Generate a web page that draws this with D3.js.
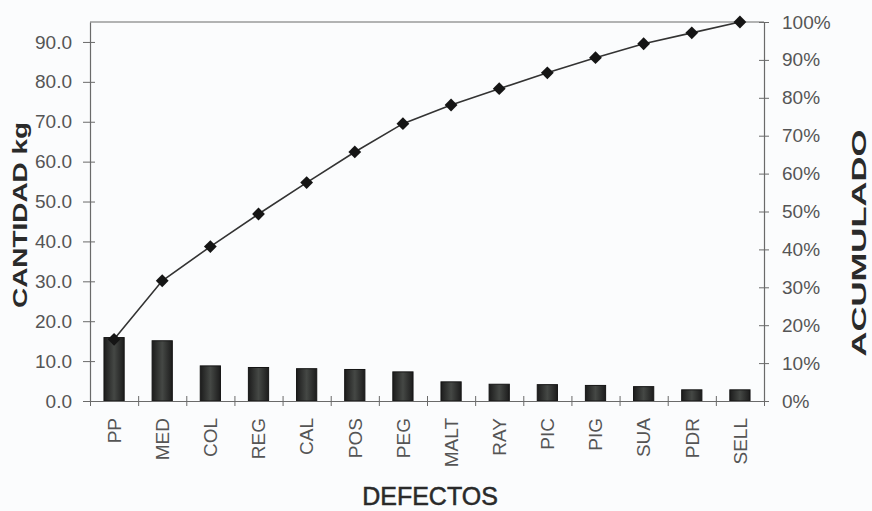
<!DOCTYPE html>
<html>
<head>
<meta charset="utf-8">
<script src="https://cdn.jsdelivr.net/npm/d3@7"></script>
<style>
  body { margin: 0; background: #fbfcfd; }
  svg { display: block; }
  text { font-family: "Liberation Sans", Arial, sans-serif; }
</style>
</head>
<body>
<svg id="chart" width="872" height="511"></svg>
<script>
// Defect categories and quantities (kg), sorted descending for the Pareto chart
const categories = ["PP", "MED", "COL", "REG", "CAL", "POS", "PEG", "MALT", "RAY", "PIC", "PIG", "SUA", "PDR", "SELL"];
const quantities = [15.9, 15.1, 8.8, 8.4, 8.1, 7.9, 7.3, 4.8, 4.2, 4.1, 3.9, 3.6, 2.8, 2.8];
const leftTicks = [0, 10, 20, 30, 40, 50, 60, 70, 80, 90];
const rightTicks = [0, 0.1, 0.2, 0.3, 0.4, 0.5, 0.6, 0.7, 0.8, 0.9, 1.0];

// Cumulative share of the total after each category
const total = d3.sum(quantities);
const cumulative = d3.cumsum(quantities).map(v => v / total);

const svg = d3.select("#chart");
const plot = { left: 90, right: 764, top: 22, bottom: 401 };

const x = d3.scaleBand()
  .domain(categories)
  .range([plot.left, plot.right])
  .paddingInner(0.58)
  .paddingOuter(0.29);

const xEdges = d3.scaleLinear().domain([0, categories.length]).range([plot.left, plot.right]);
const yLeft = d3.scaleLinear().domain([0, 95]).range([plot.bottom, plot.top]);
const yRight = d3.scaleLinear().domain([0, 1]).range([plot.bottom, plot.top]);

const axisColor = "#6a6a6a";
const labelColor = "#555";

// Bar shading
const defs = svg.append("defs");
const grad = defs.append("linearGradient").attr("id", "barFill").attr("x1", "0").attr("x2", "1").attr("y1", "0").attr("y2", "0");
grad.append("stop").attr("offset", "0%").attr("stop-color", "#1c1c1c");
grad.append("stop").attr("offset", "50%").attr("stop-color", "#454845");
grad.append("stop").attr("offset", "100%").attr("stop-color", "#1c1c1c");

// Top frame line
svg.append("line")
  .attr("x1", plot.left).attr("x2", plot.right)
  .attr("y1", plot.top).attr("y2", plot.top)
  .attr("stroke", axisColor).attr("stroke-width", 1.2);

// Bars
svg.append("g").selectAll("rect")
  .data(quantities)
  .join("rect")
  .attr("x", (d, i) => x(categories[i]))
  .attr("width", x.bandwidth())
  .attr("y", d => yLeft(d))
  .attr("height", d => yLeft(0) - yLeft(d))
  .attr("fill", "url(#barFill)")
  .attr("stroke", "#151515")
  .attr("stroke-width", 1);

// Crossing tick marks helper
function crossTicks(g, outside, inside, orient) {
  g.selectAll(".tick line").each(function () {
    const l = d3.select(this);
    if (orient === "left") l.attr("x1", inside).attr("x2", -outside);
    if (orient === "right") l.attr("x1", -inside).attr("x2", outside);
    if (orient === "bottom") l.attr("y1", -inside).attr("y2", outside);
  });
}

// Left axis
const gLeft = svg.append("g")
  .attr("transform", `translate(${plot.left},0)`)
  .call(d3.axisLeft(yLeft).tickValues(leftTicks).tickFormat(d3.format(".1f")).tickSizeOuter(0).tickPadding(12));
crossTicks(gLeft, 7, 5, "left");

// Right axis
const gRight = svg.append("g")
  .attr("transform", `translate(${plot.right},0)`)
  .call(d3.axisRight(yRight).tickValues(rightTicks).tickFormat(d3.format(".0%")).tickSizeOuter(0).tickPadding(12));
crossTicks(gRight, 5, 5, "right");

// Bottom axis: ticks on the category boundaries
const gBottom = svg.append("g")
  .attr("transform", `translate(0,${plot.bottom})`)
  .call(d3.axisBottom(xEdges).tickValues(d3.range(categories.length + 1)).tickFormat("").tickSizeOuter(0));
crossTicks(gBottom, 5, 5, "bottom");

// Category labels, rotated
const gCats = svg.append("g")
  .attr("transform", `translate(0,${plot.bottom})`)
  .call(d3.axisBottom(x).tickSize(0));
gCats.select(".domain").remove();
gCats.selectAll(".tick text")
  .attr("transform", "rotate(-90)")
  .attr("x", -17)
  .attr("y", 0)
  .attr("dy", "0.36em")
  .attr("text-anchor", "end");

[gLeft, gRight, gBottom].forEach(g => {
  g.select(".domain").attr("stroke", axisColor).attr("stroke-width", 1.2);
  g.selectAll(".tick line").attr("stroke", axisColor).attr("stroke-width", 1);
});
[gLeft, gRight, gCats].forEach(g => {
  g.selectAll(".tick text")
    .attr("fill", labelColor)
    .style("font-size", "19px")
    .style("font-family", "'Liberation Sans', Arial, sans-serif");
});

// Cumulative line with diamond markers
const cx = c => x(c) + x.bandwidth() / 2;
svg.append("path")
  .datum(cumulative)
  .attr("fill", "none")
  .attr("stroke", "#333")
  .attr("stroke-width", 1.6)
  .attr("d", d3.line().x((d, i) => cx(categories[i])).y(d => yRight(d)));

svg.append("g").selectAll("path")
  .data(cumulative)
  .join("path")
  .attr("transform", (d, i) => `translate(${cx(categories[i])},${yRight(d)}) rotate(45)`)
  .attr("d", d3.symbol().type(d3.symbolSquare).size(82))
  .attr("fill", "#151515");

// Axis titles
svg.append("text")
  .attr("transform", "translate(20,215) rotate(-90)")
  .attr("text-anchor", "middle")
  .attr("dy", "0.36em")
  .attr("textLength", 186)
  .attr("lengthAdjust", "spacingAndGlyphs")
  .attr("fill", "#2a2a2a")
  .style("font-size", "20px")
  .style("font-weight", "bold")
  .text("CANTIDAD kg");

svg.append("text")
  .attr("transform", "translate(858,243) rotate(-90)")
  .attr("text-anchor", "middle")
  .attr("dy", "0.36em")
  .attr("textLength", 227)
  .attr("lengthAdjust", "spacingAndGlyphs")
  .attr("fill", "#2a2a2a")
  .style("font-size", "21px")
  .style("font-weight", "bold")
  .text("ACUMULADO");

svg.append("text")
  .attr("x", 430)
  .attr("y", 505)
  .attr("text-anchor", "middle")
  .attr("fill", "#2a2a2a")
  .attr("stroke", "#2a2a2a")
  .attr("stroke-width", 0.5)
  .style("font-size", "25px")
  .text("DEFECTOS");
</script>
</body>
</html>
